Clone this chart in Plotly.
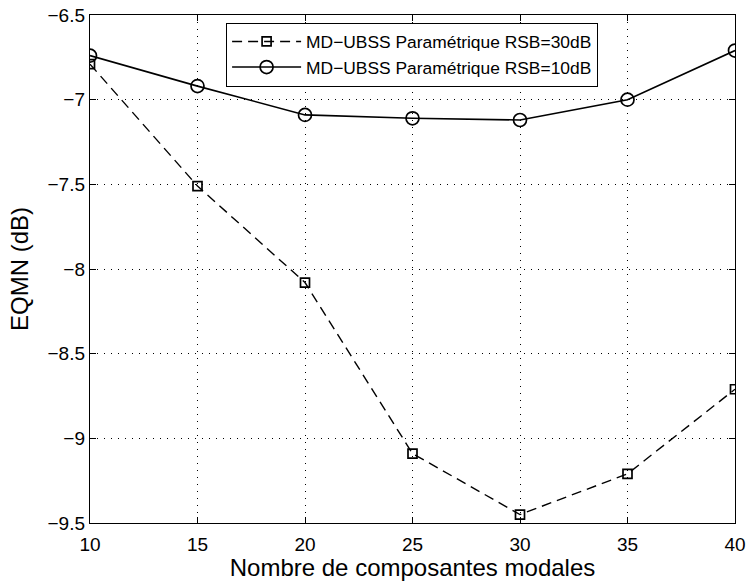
import plotly.graph_objects as go

x_vals = [10, 15, 20, 25, 30, 35, 40]
eqmn_30db = [-6.79, -7.51, -8.08, -9.09, -9.45, -9.21, -8.71]
eqmn_10db = [-6.74, -6.92, -7.09, -7.11, -7.12, -7.00, -6.71]
name_30 = "MD\u2212UBSS Paramétrique RSB=30dB"
name_10 = "MD\u2212UBSS Paramétrique RSB=10dB"
x_ticks = [10, 15, 20, 25, 30, 35, 40]
y_ticks = [-9.5, -9, -8.5, -8, -7.5, -7, -6.5]
y_tick_text = ["\u22129.5", "\u22129", "\u22128.5", "\u22128", "\u22127.5", "\u22127", "\u22126.5"]

fig = go.Figure()
fig.add_trace(go.Scatter(
    x=x_vals, y=eqmn_30db, name=name_30, mode="lines+markers",
    line=dict(color="black", width=1.4, dash="10px,6px"),
    marker=dict(symbol="square-open", size=9, color="black", line=dict(width=1.7)),
))
fig.add_trace(go.Scatter(
    x=x_vals, y=eqmn_10db, name=name_10, mode="lines+markers",
    line=dict(color="black", width=1.6),
    marker=dict(symbol="circle-open", size=13, color="black", line=dict(width=1.7)),
))

axis_common = dict(
    showline=True, linecolor="black", linewidth=1.4, mirror="ticks",
    ticks="inside", ticklen=6, tickcolor="black",
    showgrid=True, gridcolor="black", gridwidth=1, griddash="1px,6px",
    zeroline=False, tickfont=dict(size=19, color="black"), automargin=False,
)
fig.update_xaxes(range=[10, 40], tickvals=x_ticks, ticklabelstandoff=4,
                 title=dict(text="Nombre de composantes modales", font=dict(size=24, color="black"), standoff=4),
                 **axis_common)
fig.update_yaxes(range=[-9.5, -6.5], tickvals=y_ticks, ticktext=y_tick_text,
                 title=dict(text="EQMN (dB)", font=dict(size=24, color="black"), standoff=12),
                 **axis_common)

fig.update_layout(
    template="none",
    width=748, height=581,
    margin=dict(l=90, r=13, t=15, b=58, autoexpand=False),
    paper_bgcolor="white", plot_bgcolor="white",
    font=dict(family="Liberation Sans, Arial, Helvetica, sans-serif", color="black"),
    legend=dict(x=0.211, y=0.985, xanchor="left", yanchor="top",
                bgcolor="white", bordercolor="black", borderwidth=1,
                font=dict(size=17.4, color="black"), itemwidth=69,
                tracegroupgap=0),
    showlegend=True,
)

fig.write_html("out.html", config={"displayModeBar": False})

with open("out.html", "r", encoding="utf-8") as f:
    html = f.read()
html = html.replace("<head>", "<head><style>html,body{margin:0;padding:0;overflow:hidden;}</style>", 1)
with open("out.html", "w", encoding="utf-8") as f:
    f.write(html)
